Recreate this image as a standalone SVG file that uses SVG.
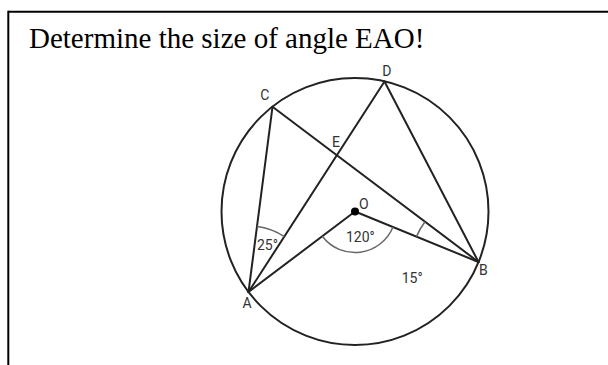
<svg xmlns="http://www.w3.org/2000/svg" width="608" height="365" viewBox="0 0 608 365">
  <style>
    .frame { stroke: #000; stroke-width: 2; fill: none; }
    .title { font-family: "Liberation Serif", "Times New Roman", serif; font-size: 29px; fill: #000; }
    .seg { stroke: #222; stroke-width: 2; fill: none; stroke-linecap: round; }
    .circ { stroke: #222; stroke-width: 2; fill: none; }
    .ang { stroke: #666; stroke-width: 1.5; fill: none; }
    .lbl { font-family: Roboto, "Liberation Sans", sans-serif; font-size: 14px; fill: #333; }
  </style>
  <rect width="608" height="365" fill="#fff"/>
  <g id="frame">
    <line class="frame" x1="8.3" y1="11.7" x2="608" y2="11.7"/>
    <line class="frame" x1="8.3" y1="10.7" x2="8.3" y2="365"/>
  </g>
  <text class="title" x="29" y="48">Determine the size of angle EAO!</text>

  <g id="circle">
    <circle class="circ" cx="355" cy="211.5" r="133.5"/>
  </g>

  <g id="connectors">
    <line class="seg" x1="272.5" y1="106.8" x2="248.5" y2="292"/>
    <line class="seg" x1="272.5" y1="106.8" x2="478.5" y2="262"/>
    <line class="seg" x1="248.5" y1="292" x2="384.5" y2="81.5"/>
    <line class="seg" x1="384.5" y1="81.5" x2="478.5" y2="262"/>
    <line class="seg" x1="248.5" y1="292" x2="355" y2="211.5"/>
    <line class="seg" x1="355" y1="211.5" x2="478.5" y2="262"/>
  </g>

  <g id="angles">
    <path class="ang" d="M256.98,226.55 A66,66 0 0 1 284.32,236.56"/>
    <path class="ang" d="M392.96,227.02 A41,41 0 0 1 322.29,236.22"/>
    <path class="ang" d="M416.47,236.63 A67,67 0 0 1 424.99,221.68"/>
    <text class="lbl" x="257" y="250">25°</text>
    <text class="lbl" x="346" y="241.5">120°</text>
    <text class="lbl" x="401.7" y="282.7">15°</text>
  </g>

  <g id="node-A"><text class="lbl" x="242.5" y="307.7">A</text></g>
  <g id="node-B"><text class="lbl" x="479" y="275.3">B</text></g>
  <g id="node-C"><text class="lbl" x="260.3" y="100">C</text></g>
  <g id="node-D"><text class="lbl" x="382.3" y="76">D</text></g>
  <g id="node-E"><text class="lbl" x="332" y="147.3">E</text></g>
  <g id="node-O">
    <circle cx="355" cy="211.5" r="4" fill="#000"/>
    <text class="lbl" x="359" y="209">O</text>
  </g>
</svg>
